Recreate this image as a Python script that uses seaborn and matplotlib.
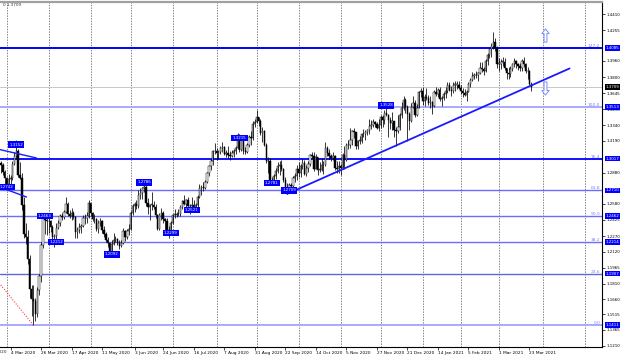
import numpy as np
import pandas as pd
import matplotlib
matplotlib.use("Agg")
import matplotlib.pyplot as plt
import seaborn as sns
from matplotlib.path import Path

# ---------------- data (GBP/USD daily) ----------------
first_open = 1.2970

close = [
    1.2950, 1.2890, 1.2825,
    # Mar 2020
    1.2775, 1.2820, 1.2830, 1.2960, 1.3045, 1.3090, 1.2860, 1.2830, 1.2570, 1.2290, 1.2260,
    1.2050, 1.1760, 1.1660, 1.1640, 1.1520, 1.1750, 1.1880, 1.2180, 1.2450, 1.2420, 1.2410,
    # Apr
    1.2410, 1.2360, 1.2260, 1.2270, 1.2350, 1.2400, 1.2460, 1.2450, 1.2500, 1.2580, 1.2480,
    1.2460, 1.2490, 1.2450, 1.2310, 1.2330, 1.2360, 1.2370, 1.2440, 1.2440, 1.2460, 1.2590,
    # May
    1.2490, 1.2430, 1.2430, 1.2340, 1.2400, 1.2410, 1.2330, 1.2290, 1.2230, 1.2200, 1.2120,
    1.2190, 1.2230, 1.2240, 1.2200, 1.2170, 1.2200, 1.2320, 1.2260, 1.2320, 1.2340,
    # Jun
    1.2490, 1.2560, 1.2580, 1.2560, 1.2670, 1.2680, 1.2730, 1.2740, 1.2590, 1.2550, 1.2570,
    1.2570, 1.2550, 1.2470, 1.2340, 1.2470, 1.2490, 1.2430, 1.2410, 1.2330, 1.2300, 1.2400,
    # Jul
    1.2475, 1.2475, 1.2480, 1.2480, 1.2550, 1.2605, 1.2580, 1.2620, 1.2555, 1.2560, 1.2570,
    1.2550, 1.2565, 1.2650, 1.2730, 1.2740, 1.2730, 1.2790, 1.2875, 1.2940, 1.2990, 1.3090, 1.3090,
    # Aug
    1.3070, 1.3080, 1.3120, 1.3125, 1.3060, 1.3070, 1.3050, 1.3040, 1.3070, 1.3090, 1.3120,
    1.3240, 1.3100, 1.3230, 1.3090, 1.3080, 1.3150, 1.3220, 1.3210, 1.3350, 1.3370,
    # Sep
    1.3420, 1.3380, 1.3260, 1.3280, 1.3150, 1.2990, 1.2990, 1.2800, 1.2790, 1.2850, 1.2900,
    1.2940, 1.2950, 1.2920, 1.2810, 1.2740, 1.2720, 1.2760, 1.2750, 1.2830, 1.2850, 1.2920,
    # Oct
    1.2880, 1.2940, 1.2970, 1.2870, 1.2930, 1.2960, 1.3050, 1.3040, 1.2920, 1.3030, 1.2910,
    1.2910, 1.2950, 1.2950, 1.3120, 1.3070, 1.3040, 1.3020, 1.3040, 1.2930, 1.2920, 1.2940,
    # Nov
    1.2930, 1.3050, 1.3000, 1.3150, 1.3150, 1.3200, 1.3280, 1.3270, 1.3140, 1.3190, 1.3190,
    1.3250, 1.3250, 1.3270, 1.3290, 1.3330, 1.3340, 1.3370, 1.3350, 1.3310, 1.3340,
    # Dec
    1.3420, 1.3390, 1.3460, 1.3440, 1.3390, 1.3360, 1.3380, 1.3290, 1.3280, 1.3320, 1.3440,
    1.3500, 1.3580, 1.3510, 1.3450, 1.3380, 1.3510, 1.3550, 1.3440, 1.3500, 1.3660, 1.3670,
    # Jan 2021
    1.3570, 1.3610, 1.3600, 1.3550, 1.3560, 1.3520, 1.3660, 1.3640, 1.3680, 1.3590,
    1.3600, 1.3640, 1.3670, 1.3730, 1.3680, 1.3670, 1.3730, 1.3730, 1.3730, 1.3700,
    # Feb
    1.3670, 1.3650, 1.3630, 1.3660, 1.3740, 1.3770, 1.3810, 1.3820, 1.3820, 1.3840,
    1.3890, 1.3880, 1.3860, 1.3960, 1.4010, 1.4070, 1.4100, 1.4140, 1.4080, 1.3930,
    # Mar 2021
    1.3930, 1.3950, 1.3950, 1.3890, 1.3840, 1.3830, 1.3880, 1.3930, 1.3960, 1.3930,
    1.3910, 1.3890, 1.3960, 1.3930, 1.3860, 1.3860, 1.3740, 1.3709,
]

high = [
    1.2990, 1.2975, 1.2905,
    1.2840, 1.2870, 1.2855, 1.2990, 1.3080, 1.3200, 1.3110, 1.2980, 1.2880, 1.2650, 1.2400,
    1.2330, 1.2090, 1.1800, 1.1800, 1.1670, 1.1780, 1.1900, 1.2210, 1.2485, 1.2440, 1.2470,
    1.2440, 1.2420, 1.2380, 1.2290, 1.2400, 1.2420, 1.2480, 1.2490, 1.2520, 1.2647, 1.2600,
    1.2520, 1.2540, 1.2510, 1.2460, 1.2360, 1.2400, 1.2390, 1.2470, 1.2480, 1.2500, 1.2615,
    1.2590, 1.2500, 1.2480, 1.2440, 1.2420, 1.2440, 1.2420, 1.2370, 1.2310, 1.2260, 1.2210,
    1.2230, 1.2295, 1.2270, 1.2250, 1.2230, 1.2230, 1.2350, 1.2330, 1.2340, 1.2390,
    1.2510, 1.2580, 1.2600, 1.2620, 1.2710, 1.2730, 1.2740, 1.2810, 1.2760, 1.2640, 1.2580,
    1.2690, 1.2610, 1.2580, 1.2480, 1.2490, 1.2540, 1.2510, 1.2440, 1.2440, 1.2370, 1.2410,
    1.2480, 1.2530, 1.2500, 1.2530, 1.2570, 1.2620, 1.2670, 1.2630, 1.2650, 1.2580, 1.2650,
    1.2620, 1.2590, 1.2670, 1.2770, 1.2760, 1.2790, 1.2810, 1.2890, 1.2950, 1.3010, 1.3100, 1.3170,
    1.3120, 1.3100, 1.3140, 1.3180, 1.3140, 1.3100, 1.3140, 1.3090, 1.3100, 1.3110, 1.3140,
    1.3267, 1.3250, 1.3240, 1.3230, 1.3130, 1.3170, 1.3240, 1.3280, 1.3380, 1.3400,
    1.3482, 1.3420, 1.3400, 1.3320, 1.3290, 1.3170, 1.3030, 1.3020, 1.2840, 1.2870, 1.2930,
    1.2980, 1.2990, 1.3000, 1.2930, 1.2840, 1.2780, 1.2780, 1.2780, 1.2850, 1.2880, 1.2950,
    1.2980, 1.2960, 1.3010, 1.3000, 1.2950, 1.2990, 1.3060, 1.3080, 1.3080, 1.3060, 1.3030,
    1.2980, 1.3020, 1.2990, 1.3176, 1.3140, 1.3110, 1.3060, 1.3080, 1.3050, 1.2990, 1.2990,
    1.2960, 1.3070, 1.3140, 1.3170, 1.3200, 1.3310, 1.3290, 1.3310, 1.3270, 1.3200, 1.3230,
    1.3260, 1.3300, 1.3290, 1.3300, 1.3400, 1.3390, 1.3400, 1.3380, 1.3370, 1.3400,
    1.3440, 1.3440, 1.3480, 1.3540, 1.3450, 1.3420, 1.3470, 1.3380, 1.3320, 1.3440, 1.3460,
    1.3560, 1.3620, 1.3600, 1.3530, 1.3470, 1.3550, 1.3620, 1.3580, 1.3540, 1.3670, 1.3700,
    1.3710, 1.3640, 1.3700, 1.3630, 1.3620, 1.3570, 1.3680, 1.3710, 1.3700, 1.3710,
    1.3620, 1.3660, 1.3710, 1.3750, 1.3750, 1.3720, 1.3750, 1.3760, 1.3760, 1.3760,
    1.3730, 1.3700, 1.3690, 1.3680, 1.3750, 1.3790, 1.3850, 1.3840, 1.3860, 1.3850,
    1.3950, 1.3950, 1.3900, 1.3980, 1.4030, 1.4080, 1.4130, 1.4240, 1.4180, 1.4100,
    1.3990, 1.3980, 1.4000, 1.3990, 1.3890, 1.3900, 1.3910, 1.3940, 1.3990, 1.3970,
    1.3940, 1.3940, 1.3980, 1.4000, 1.3940, 1.3900, 1.3870, 1.3750,
]

low = [
    1.2880, 1.2860, 1.2760,
    1.2725, 1.2745, 1.2760, 1.2810, 1.2950, 1.3010, 1.2840, 1.2815, 1.2520, 1.2250, 1.2190,
    1.2000, 1.1670, 1.1500, 1.1410, 1.1450, 1.1490, 1.1700, 1.1830, 1.2150, 1.2290, 1.2280,
    1.2300, 1.2310, 1.2245, 1.2165, 1.2240, 1.2340, 1.2370, 1.2420, 1.2430, 1.2490, 1.2460,
    1.2440, 1.2420, 1.2430, 1.2250, 1.2250, 1.2300, 1.2300, 1.2360, 1.2390, 1.2400, 1.2440,
    1.2460, 1.2410, 1.2400, 1.2320, 1.2300, 1.2370, 1.2300, 1.2260, 1.2210, 1.2160, 1.2110,
    1.2075, 1.2180, 1.2210, 1.2180, 1.2140, 1.2160, 1.2190, 1.2220, 1.2240, 1.2280,
    1.2330, 1.2470, 1.2500, 1.2530, 1.2540, 1.2630, 1.2630, 1.2690, 1.2560, 1.2480, 1.2420,
    1.2520, 1.2530, 1.2440, 1.2330, 1.2330, 1.2420, 1.2400, 1.2330, 1.2310, 1.2250, 1.2280,
    1.2390, 1.2440, 1.2450, 1.2460, 1.2460, 1.2530, 1.2570, 1.2550, 1.2540, 1.2480, 1.2530,
    1.2530, 1.2500, 1.2540, 1.2640, 1.2670, 1.2700, 1.2720, 1.2780, 1.2850, 1.2910, 1.2950, 1.3060,
    1.3000, 1.3010, 1.3060, 1.3080, 1.3050, 1.3030, 1.3020, 1.3000, 1.3030, 1.3030, 1.3060,
    1.3110, 1.3080, 1.3090, 1.3060, 1.3060, 1.3070, 1.3130, 1.3150, 1.3200, 1.3320,
    1.3360, 1.3330, 1.3240, 1.3180, 1.3140, 1.2970, 1.2880, 1.2780, 1.2762, 1.2780, 1.2820,
    1.2880, 1.2860, 1.2900, 1.2790, 1.2720, 1.2676, 1.2690, 1.2690, 1.2740, 1.2790, 1.2810,
    1.2840, 1.2840, 1.2920, 1.2860, 1.2850, 1.2890, 1.2940, 1.3020, 1.2900, 1.2920, 1.2860,
    1.2890, 1.2900, 1.2870, 1.2940, 1.3040, 1.3010, 1.2990, 1.3000, 1.2910, 1.2880, 1.2880,
    1.2855, 1.2920, 1.2915, 1.2990, 1.3110, 1.3120, 1.3150, 1.3210, 1.3110, 1.3110, 1.3160,
    1.3170, 1.3220, 1.3200, 1.3240, 1.3250, 1.3300, 1.3320, 1.3320, 1.3300, 1.3280,
    1.3310, 1.3320, 1.3350, 1.3430, 1.3225, 1.3300, 1.3290, 1.3220, 1.3135, 1.3260, 1.3290,
    1.3410, 1.3480, 1.3460, 1.3190, 1.3290, 1.3370, 1.3500, 1.3420, 1.3430, 1.3500, 1.3610,
    1.3530, 1.3520, 1.3580, 1.3530, 1.3500, 1.3450, 1.3510, 1.3620, 1.3610, 1.3570,
    1.3520, 1.3580, 1.3600, 1.3650, 1.3670, 1.3620, 1.3650, 1.3670, 1.3690, 1.3690,
    1.3640, 1.3610, 1.3620, 1.3570, 1.3660, 1.3710, 1.3760, 1.3780, 1.3790, 1.3760,
    1.3830, 1.3850, 1.3820, 1.3850, 1.3920, 1.3990, 1.4000, 1.4070, 1.4050, 1.3890,
    1.3860, 1.3880, 1.3910, 1.3870, 1.3780, 1.3780, 1.3800, 1.3860, 1.3900, 1.3890,
    1.3870, 1.3860, 1.3860, 1.3900, 1.3840, 1.3780, 1.3730, 1.3670,
]

# Fibonacci grid
fib_levels = ["0.0", "23.6", "38.2", "50.0", "61.8", "76.4", "100.0", "127.2"]
fib_prices = [1.1411, 1.1907, 1.2214, 1.2462, 1.2710, 1.3017, 1.3513, 1.4085]
fib_colors = ["#a4a4ff", "#5f6ad8", "#6b6bff", "#6b6bff", "#6b6bff", "#1010ff", "#a4a4ff", "#0000ff"]
fib_widths = [1.3, 1.0, 1.0, 1.0, 1.0, 1.4, 1.3, 1.4]

current_price = 1.3709

# swing price labels (blue boxes)
swing_dates = ["2020-03-02", "2020-03-09", "2020-03-30", "2020-04-07", "2020-05-18", "2020-06-10",
               "2020-06-30", "2020-07-15", "2020-08-19", "2020-09-11", "2020-09-24", "2020-12-04"]
swing_prices = [1.2742, 1.3152, 1.2463, 1.2212, 1.2092, 1.2786,
                1.2299, 1.2521, 1.3215, 1.2781, 1.2709, 1.3528]

# trend lines: (start date, start price) -> (bars after start, end price)
trend_up = [("2020-09-23", 1.2676), (148, 1.3885)]
chan_top = [(-6.5, 1.3128), (18.6, 1.3022)]   # bar positions
chan_bot = [(-6.5, 1.2781), (13.4, 1.2646)]
zigzag = [(-6.5, 1.1942), (17.0, 1.1410)]

x_label_dates = ["2020-03-04", "2020-03-26", "2020-04-17", "2020-05-11", "2020-06-03", "2020-06-24",
                 "2020-07-16", "2020-08-07", "2020-08-31", "2020-09-22", "2020-10-14", "2020-11-05",
                 "2020-11-27", "2020-12-21", "2021-01-14", "2021-02-05", "2021-03-01", "2021-03-23"]

y_ticks = [1.1210, 1.1365, 1.1515, 1.1660, 1.1810, 1.1965, 1.2120, 1.2270, 1.2425, 1.2580,
           1.2880, 1.3190, 1.3340, 1.3490, 1.3645, 1.3800, 1.3960, 1.4255, 1.4410]

arrow_bar_offset = 7.0          # bars to the right of the last candle
arrow_up_price = 1.4210
arrow_down_price = 1.3695

# ---------------- build ----------------
dates = pd.bdate_range("2020-02-26", "2021-03-24")
dates = dates[~dates.isin(pd.to_datetime(["2020-12-25", "2021-01-01"]))]
n = min(len(dates), len(close), len(high), len(low))
dates = dates[:n]
c = np.array(close[:n])
o = np.array([first_open] + close[:n - 1])
h = np.maximum(np.array(high[:n]), np.maximum(o, c))
l = np.minimum(np.array(low[:n]), np.minimum(o, c))
x = np.arange(n)
pos = {d.strftime("%Y-%m-%d"): i for i, d in enumerate(dates)}
df = pd.DataFrame({"x": x, "open": o, "close": c, "high": h, "low": l})

sns.set_theme(style="white")
plt.rcParams["font.family"] = ["DejaVu Sans"]

W, H = 620, 357
fig = plt.figure(figsize=(W / 100, H / 100), dpi=100)
fig.patch.set_facecolor("white")
ax_top, ax_bot, ax_right = 2, 347, 602
ax = fig.add_axes([0, (H - ax_bot) / H, ax_right / W, (ax_bot - ax_top) / H])
ax.set_facecolor("white")

PX_BAR = 1.908
mar2 = pos["2020-03-02"]
x_left = mar2 - 6.7 / PX_BAR
ax.set_xlim(x_left, x_left + ax_right / PX_BAR)
ax.set_ylim(1.1200, 1.45257)

# month grid (dotted)
month_starts = [i for i in range(1, n) if dates[i].month != dates[i - 1].month]
future = pd.bdate_range(dates[-1] + pd.Timedelta(days=1), "2021-06-30")
for k, d in enumerate(future):
    if d.day <= 3 and (k == 0 or future[k - 1].month != d.month):
        month_starts.append(n + k)
for m in month_starts:
    ax.axvline(m, color="#666666", lw=0.6, ls=(0, (1.6, 1.6)), zorder=1)

ytr = ax.get_yaxis_transform()
# fibonacci lines
for lev, pr, col, lw in zip(fib_levels, fib_prices, fib_colors, fib_widths):
    ax.axhline(pr, color=col, lw=lw, zorder=2)
    ax.text(0.997, pr, lev, transform=ytr, ha="right", va="bottom",
            fontsize=3.2, color="#7f7fff", zorder=6)
    ax.text(1.006, pr, f"{pr:.4f}", transform=ytr, ha="left", va="center",
            fontsize=2.9, color="white", clip_on=False, zorder=8,
            bbox=dict(boxstyle="square,pad=0.2", fc="#0000ff", ec="none"))

# current price line
ax.axhline(current_price, color="#c8c8c8", lw=0.7, zorder=2)
ax.text(1.006, current_price, f"{current_price:.4f}", transform=ytr,
        ha="left", va="center", fontsize=2.9, color="white", clip_on=False, zorder=8,
        bbox=dict(boxstyle="square,pad=0.2", fc="black", ec="none"))

# candles
ax.vlines(df["x"], df["low"], df["high"], color="black", lw=0.55, zorder=3)
bull = df["close"] >= df["open"]
body_lo = np.minimum(df["open"], df["close"])
body_h = np.maximum(np.abs(df["close"] - df["open"]), 0.0004)
ax.bar(df["x"][bull], body_h[bull], bottom=body_lo[bull], width=0.7, color="white",
       edgecolor="black", linewidth=0.35, zorder=4)
ax.bar(df["x"][~bull], body_h[~bull], bottom=body_lo[~bull], width=0.7, color="black",
       edgecolor="black", linewidth=0.35, zorder=4)

# trend lines
s_i = pos[trend_up[0][0]]
tl = pd.DataFrame({"x": [s_i, s_i + trend_up[1][0]], "y": [trend_up[0][1], trend_up[1][1]]})
sns.lineplot(data=tl, x="x", y="y", ax=ax, color="#1a1aff", lw=1.3, zorder=5)
for seg in (chan_top, chan_bot):
    sd = pd.DataFrame({"x": [seg[0][0], seg[1][0]], "y": [seg[0][1], seg[1][1]]})
    sns.lineplot(data=sd, x="x", y="y", ax=ax, color="#1a1aff", lw=1.0, zorder=5)
zz = pd.DataFrame({"x": [zigzag[0][0], zigzag[1][0]], "y": [zigzag[0][1], zigzag[1][1]]})
sns.lineplot(data=zz, x="x", y="y", ax=ax, color="#ff3b3b", lw=0.8, ls=(0, (1, 1.4)), zorder=5)

# swing labels
for d, pr in zip(swing_dates, swing_prices):
    ax.text(pos[d], pr, f"{pr:.4f}", ha="center", va="center", fontsize=2.9, color="white",
            zorder=7, bbox=dict(boxstyle="square,pad=0.3", fc="#0000ff", ec="none"))

# arrows
up = Path([(0, 1), (0.55, 0.3), (0.22, 0.3), (0.22, -1), (-0.22, -1), (-0.22, 0.3), (-0.55, 0.3), (0, 1)],
          [Path.MOVETO] + [Path.LINETO] * 6 + [Path.CLOSEPOLY])
down = Path([(vx, -vy) for vx, vy in up.vertices], up.codes)
ax.plot([n - 1 + arrow_bar_offset], [arrow_up_price], marker=up, ms=9.5, mfc="white",
        mec="#7d8dff", mew=0.7, ls="none", zorder=6)
ax.plot([n - 1 + arrow_bar_offset], [arrow_down_price], marker=down, ms=9.5, mfc="white",
        mec="#7d8dff", mew=0.7, ls="none", zorder=6)

# axes styling
ax.yaxis.tick_right()
ax.set_yticks(y_ticks)
ax.set_yticklabels([f"{t:.4f}" for t in y_ticks])
xt = [pos[d] for d in x_label_dates if d in pos]
xl = [pd.Timestamp(d).strftime("%-d %b %Y") for d in x_label_dates if d in pos]
ax.set_xticks(xt)
ax.set_xticklabels(xl, ha="left")
ax.tick_params(axis="y", labelsize=2.9, length=2, width=0.5, pad=1.0, colors="black", right=True)
ax.tick_params(axis="x", labelsize=3.1, length=2, width=0.5, pad=1.2, colors="black", bottom=True)
ax.set_xlabel("")
ax.set_ylabel("")
ax.grid(False)
ax.spines["left"].set_visible(False)
ax.spines["right"].set_color("black")
ax.spines["right"].set_linewidth(0.8)
ax.spines["bottom"].set_color("black")
ax.spines["bottom"].set_linewidth(0.8)
ax.spines["top"].set_color("#a0a0a0")
ax.spines["top"].set_linewidth(1.6)

fig.text(3 / W, 1 - 3 / H, "0 1.3709", fontsize=3.0, color="#333333", va="top", ha="left")
fig.text(6 / W, (H - 352) / H, "11 Feb 2020", fontsize=3.1, va="center", ha="right")

fig.savefig("out.png", dpi=100, facecolor="white")
